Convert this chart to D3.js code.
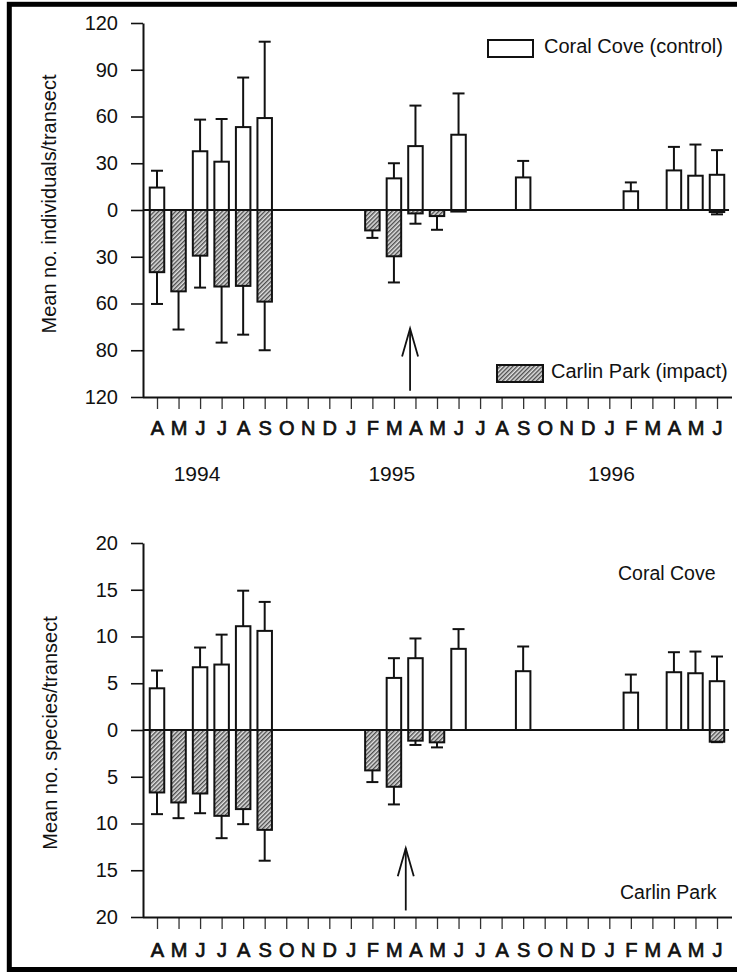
<!DOCTYPE html>
<html><head><meta charset="utf-8">
<script src="https://cdn.jsdelivr.net/npm/d3@7"></script>
<style>
body{margin:0;background:#fff}
svg{display:block}
text{font-family:"Liberation Sans",Arial,Helvetica,sans-serif;fill:#111}
</style>
</head><body>
<svg id="c" width="737" height="972"></svg>
<script>
// ---------- data ----------
const months = ["A","M","J","J","A","S","O","N","D","J","F","M","A","M","J","J","A","S","O","N","D","J","F","M","A","M","J"];
const years = ["1994","1995","1996"];
const yearAt = [1.86, 10.9, 21.1];           // month index under which each year label sits

// Mean no. individuals / transect (value, top of error bar)
const ccInd    = [14.4,null,37.7,31,53.2,59,null,null,null,null,null,20.3,41,null,48.3,null,null,20.9,null,null,null,null,12,null,25.4,22,22.6];
const ccIndErr = [25.2,null,58,58.4,85,108,null,null,null,null,null,30,67,null,74.8,null,null,31.5,null,null,null,null,17.7,null,40.5,42,38.4];
const cpInd    = [39.9,52.2,29.3,49.1,48.7,58.8,null,null,null,null,13.1,29.7,2.2,3.9,1,null,null,null,null,null,null,null,null,null,null,null,1.3];
const cpIndErr = [60.3,76.7,49.8,85.1,80,90,null,null,null,null,17.9,46.5,8.8,12.7,null,null,null,null,null,null,null,null,null,null,null,null,2.8];

// Mean no. species / transect
const ccSp    = [4.46,null,6.71,7.0,11.1,10.6,null,null,null,null,null,5.57,7.68,null,8.68,null,null,6.29,null,null,null,null,4.0,null,6.18,6.07,5.22];
const ccSpErr = [6.36,null,8.82,10.2,14.9,13.7,null,null,null,null,null,7.68,9.79,null,10.79,null,null,8.93,null,null,null,null,5.93,null,8.32,8.39,7.86];
const cpSp    = [6.68,7.75,6.79,9.18,8.46,10.68,null,null,null,null,4.32,6.07,1.14,1.32,null,null,null,null,null,null,null,null,null,null,null,null,1.25];
const cpSpErr = [9.0,9.43,8.9,11.57,10.07,13.98,null,null,null,null,5.57,7.96,1.6,1.86,null,null,null,null,null,null,null,null,null,null,null,null,1.3];

const indTicks  = [120,90,60,30,0,-30,-60,-90,-120];
const indLabels = ["120","90","60","30","0","30","60","80","120"];
const spTicks   = [20,15,10,5,0,-5,-10,-15,-20];
const spLabels  = ["20","15","10","5","0","5","10","15","20"];

// ---------- drawing ----------
const svg = d3.select("#c");
const defs = svg.append("defs");
const pat = defs.append("pattern").attr("id","hatch").attr("patternUnits","userSpaceOnUse")
  .attr("width",3).attr("height",3).attr("patternTransform","rotate(45)");
pat.append("rect").attr("width",3).attr("height",3).attr("fill","#e2e2e2");
pat.append("line").attr("x1",0.75).attr("x2",0.75).attr("y1",0).attr("y2",3)
  .attr("stroke","#333").attr("stroke-width",1.2);

const x = d3.scaleLinear().domain([0, months.length-1]).range([157, 717]);
const AX = 143, XEND = 732, BW = 14.5, CAP = 6;

function panel(cfg){
  const y = d3.scaleLinear().domain([-cfg.max, cfg.max]).range([cfg.bottom, cfg.top]);
  const g = svg.append("g");

  // y axis
  const ya = g.append("g").attr("transform",`translate(${AX},0)`)
    .call(d3.axisLeft(y).tickValues(cfg.ticks).tickFormat((d,i)=>cfg.labels[i])
      .tickSize(12).tickSizeOuter(0).tickPadding(13));
  ya.select(".domain").attr("stroke","#111").attr("stroke-width",2);
  ya.selectAll(".tick line").attr("stroke","#111").attr("stroke-width",1.6);
  ya.selectAll(".tick text").attr("font-size",20).style("font-family",'"Liberation Sans",Arial,sans-serif').attr("fill","#111");

  // x axis
  const xa = g.append("g").attr("transform",`translate(0,${cfg.bottom})`)
    .call(d3.axisBottom(x).tickValues(d3.range(months.length)).tickFormat(i=>months[i])
      .tickSize(12).tickSizeOuter(0).tickPadding(cfg.xpad));
  xa.select(".domain").remove();
  xa.selectAll(".tick line").attr("stroke","#333").attr("stroke-width",1.3);
  xa.selectAll(".tick text").attr("font-size",20)
    .style("font-family",'"Liberation Sans",Arial,sans-serif').attr("fill","#111")
    .attr("stroke","#111").attr("stroke-width",0.7);
  g.append("line").attr("x1",AX).attr("x2",XEND).attr("y1",cfg.bottom+0.5).attr("y2",cfg.bottom+0.5)
    .attr("stroke","#111").attr("stroke-width",2);

  // y title
  g.append("text").attr("transform",`translate(${cfg.titleX},${cfg.titleY}) rotate(-90)`)
    .attr("text-anchor","middle").attr("dominant-baseline","middle").attr("font-size",20).text(cfg.title);

  const idx = d3.range(months.length);
  // control bars (up)
  const up = idx.filter(i => cfg.cc[i] != null);
  g.selectAll(".cc").data(up).join("rect")
    .attr("x", i => x(i)-BW/2).attr("width", BW)
    .attr("y", i => y(cfg.cc[i])).attr("height", i => y(0)-y(cfg.cc[i]))
    .attr("fill","#fff").attr("stroke","#111").attr("stroke-width",2);
  // impact bars (down)
  const dn = idx.filter(i => cfg.cp[i] != null);
  g.selectAll(".cp").data(dn).join("rect")
    .attr("x", i => x(i)-BW/2).attr("width", BW)
    .attr("y", y(0)).attr("height", i => y(-cfg.cp[i])-y(0))
    .attr("fill","url(#hatch)").attr("stroke","#111").attr("stroke-width",2);

  // error bars
  const eb = (list, val, err, sign) => {
    const l = list.filter(i => err[i] != null);
    g.selectAll(null).data(l).join("line")
      .attr("x1", i=>x(i)).attr("x2", i=>x(i))
      .attr("y1", i=>y(sign*val[i])).attr("y2", i=>y(sign*err[i]))
      .attr("stroke","#111").attr("stroke-width",2);
    g.selectAll(null).data(l).join("line")
      .attr("x1", i=>x(i)-CAP).attr("x2", i=>x(i)+CAP)
      .attr("y1", i=>y(sign*err[i])).attr("y2", i=>y(sign*err[i]))
      .attr("stroke","#111").attr("stroke-width",2);
  };
  eb(up, cfg.cc, cfg.ccErr, 1);
  eb(dn, cfg.cp, cfg.cpErr, -1);

  // zero line
  g.append("line").attr("x1",AX).attr("x2",729).attr("y1",y(0)).attr("y2",y(0))
    .attr("stroke","#111").attr("stroke-width",2);

  // arrow
  const ax = x(cfg.arrow.at), ay1 = y(cfg.arrow.from), ay2 = y(cfg.arrow.to);
  g.append("line").attr("x1",ax).attr("x2",ax).attr("y1",ay1).attr("y2",ay2).attr("stroke","#111").attr("stroke-width",1.8);
  g.append("path").attr("d",`M${ax-8},${ay2+28}L${ax},${ay2}L${ax+8},${ay2+28}`)
    .attr("fill","none").attr("stroke","#111").attr("stroke-width",1.8);
  return {g, y};
}

const panelTop = panel({max:120, top:23, bottom:397, ticks:indTicks, labels:indLabels,
  cc:ccInd, ccErr:ccIndErr, cp:cpInd, cpErr:cpIndErr, xpad:12,
  title:"Mean no. individuals/transect", titleX:51, titleY:204,
  arrow:{at:11.75, from:-116, to:-76}});
const panelBot = panel({max:20, top:543, bottom:917, ticks:spTicks, labels:spLabels,
  cc:ccSp, ccErr:ccSpErr, cp:cpSp, cpErr:cpSpErr, xpad:14,
  title:"Mean no. species/transect", titleX:52, titleY:733,
  arrow:{at:11.55, from:-19.3, to:-12.65}});

// year labels
svg.selectAll(".yr").data(years).join("text")
  .attr("x",(d,i)=>x(yearAt[i])).attr("y",481).attr("text-anchor","middle")
  .attr("font-size",21).text(d=>d);

// legends (top panel)
svg.append("rect").attr("x",488).attr("y",40).attr("width",45).attr("height",17)
  .attr("fill","#fff").attr("stroke","#111").attr("stroke-width",2);
svg.append("text").attr("x",544).attr("y",53).attr("font-size",20).text("Coral Cove (control)");
svg.append("rect").attr("x",497).attr("y",365).attr("width",46).attr("height",17)
  .attr("fill","url(#hatch)").attr("stroke","#111").attr("stroke-width",2);
svg.append("text").attr("x",551).attr("y",378).attr("font-size",20).text("Carlin Park (impact)");

// labels (bottom panel)
svg.append("text").attr("x",618).attr("y",580).attr("font-size",19.5).text("Coral Cove");
svg.append("text").attr("x",620).attr("y",899).attr("font-size",19.5).text("Carlin Park");

// frame
svg.append("rect").attr("x",9.3).attr("y",4.3).attr("width",800).attr("height",965.2)
  .attr("fill","none").attr("stroke","#000").attr("stroke-width",5);
</script>
</body></html>
